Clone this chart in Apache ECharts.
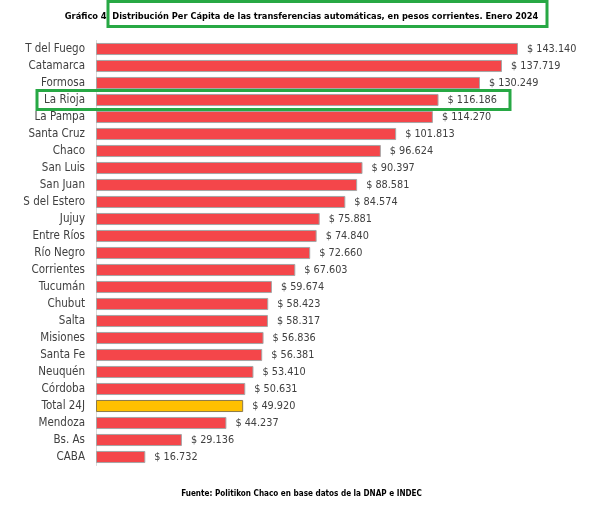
<!DOCTYPE html>
<html>
<head>
<meta charset="utf-8">
<script src="https://cdn.jsdelivr.net/npm/echarts@6/dist/echarts.min.js"></script>
<style>html,body{margin:0;padding:0;background:#fff}#c{width:603px;height:510px}</style>
</head>
<body>
<div id="c"></div>
<script>
var categories = ['T del Fuego','Catamarca','Formosa','La Rioja','La Pampa','Santa Cruz','Chaco','San Luis','San Juan','S del Estero','Jujuy','Entre Ríos','Río Negro','Corrientes','Tucumán','Chubut','Salta','Misiones','Santa Fe','Neuquén','Córdoba','Total 24J','Mendoza','Bs. As','CABA'];
var values = [143140,137719,130249,116186,114270,101813,96624,90397,88581,84574,75881,74840,72660,67603,59674,58423,58317,56836,56381,53410,50631,49920,44237,29136,16732];
var highlightTotal = 'Total 24J';
var highlightBox = 'La Rioja';
var titleText = 'Gráfico 4  Distribución Per Cápita de las transferencias automáticas, en pesos corrientes. Enero 2024';
var sourceBold = 'Fuente:';
var sourceText = ' Politikon Chaco en base datos de la DNAP e INDEC';

var FONT = "'Liberation Sans Narrow','Arial Narrow','DejaVu Sans Condensed',sans-serif";
function fmt(v){ return '$ ' + String(v).replace(/\B(?=(\d{3})+(?!\d))/g, '.'); }

var chart = echarts.init(document.getElementById('c'), null, {renderer:'canvas'});
var data = values.map(function(v,i){
  var isT = categories[i] === highlightTotal;
  return {value:v, itemStyle:{color: isT ? '#FFC000' : '#F4464A', borderColor: isT ? '#8c7a4a' : '#a6a6a6', borderWidth:1}};
});
chart.setOption({
  animation:false,
  title:[{
    text: titleText, left:'center', top:7,
    textStyle:{fontFamily:FONT, fontSize:9.2, fontWeight:'bold', color:'#000'}
  },{
    text: '{b|' + sourceBold + '}{n|' + sourceText + '}', left:'center', top:485,
    textStyle:{rich:{b:{fontFamily:FONT,fontSize:8.1,fontWeight:'bold',color:'#000'},n:{fontFamily:FONT,fontSize:8.1,color:'#000'}}}
  }],
  grid:{left:96, top:40.5, height:425, width:471.7, containLabel:false},
  xAxis:{type:'value', min:0, max:160000, show:false},
  yAxis:{type:'category', data:categories, inverse:true,
    axisLine:{show:true, lineStyle:{color:'#d9d9d9'}}, axisTick:{show:false},
    axisLabel:{fontFamily:FONT, fontSize:11.5, color:'#404040', margin:11}},
  series:[{type:'bar', data:data, barCategoryGap:'29%',
    label:{show:true, position:'right', distance:9, fontFamily:FONT, fontSize:10.8, color:'#404040',
      formatter:function(p){return fmt(p.value);}}}]
});
var yc = chart.convertToPixel({yAxisIndex:0}, highlightBox);
chart.setOption({graphic:[
  {type:'rect', shape:{x:108, y:1.5, width:439, height:25}, style:{fill:'none', stroke:'#27A844', lineWidth:3}, z:100},
  {type:'rect', shape:{x:37, y:yc-9.5, width:473, height:19}, style:{fill:'none', stroke:'#27A844', lineWidth:3}, z:100}
]});
</script>
</body>
</html>
